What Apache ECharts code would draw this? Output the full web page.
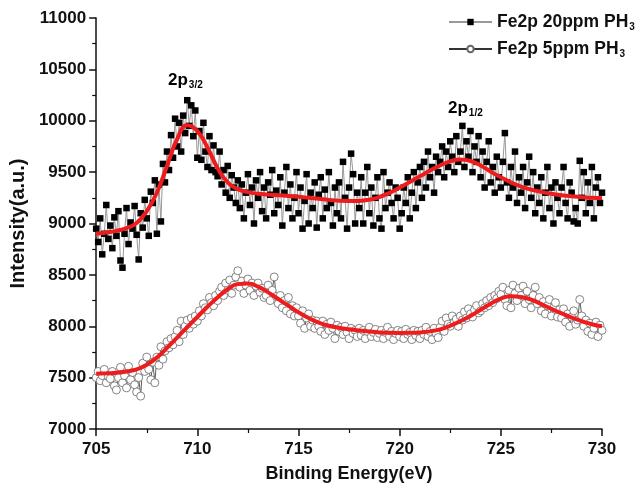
<!DOCTYPE html>
<html>
<head>
<meta charset="utf-8">
<script src="https://cdn.jsdelivr.net/npm/echarts@6/dist/echarts.min.js"></script>
<style>
  html, body { margin: 0; padding: 0; background: #fff; }
  #chart { width: 635px; height: 488px; }
</style>
</head>
<body>
<div id="chart"></div>
<script>
// raw spectra, one point every 0.1 eV from 705 to 730
const startEnergy = 705
const stepEnergy = 0.1

const fe20ppm = [
  8950, 8820, 9050, 8700, 8900, 9180, 8850, 8980, 8760, 9060,
  8880, 9120, 8640, 8570, 8900, 9150, 8800, 9010, 8950, 9170,
  8890, 8650, 9100, 8960, 9230, 9050, 8880, 9310, 9200, 9420,
  8900, 9380, 9020, 9580, 9400, 9700, 9520, 9860, 9640, 10020,
  9750, 9980, 9700, 10050, 9880, 10200, 9950, 10150, 9850, 10100,
  9640, 9900, 9620, 9980, 9700, 9550, 9850, 9520, 9760, 9500,
  9460, 9700, 9380, 9520, 9300, 9560, 9250, 9470, 9350, 9200,
  9420, 9150, 9380, 9050, 9300, 9480, 9180, 9350, 9000, 9420,
  9250, 9500, 9120, 9350, 9050, 9400, 9280, 9520, 9100, 9320,
  9180, 9450, 8980, 9300, 9550, 9150, 9380, 9050, 9250, 9500,
  9100, 9350, 8950, 9220, 9480, 9000, 9300, 9150, 9400, 8960,
  9280, 9450, 9050, 9330, 9150, 9500, 9200, 8980, 9350, 9100,
  9400, 9050, 9600, 9250, 8950, 9350, 9680, 9480, 9000, 9300,
  9150, 9450, 9000, 9300, 9550, 9100, 9350, 8980, 9250, 9450,
  9050, 8950, 9500, 9150, 9300, 9400, 9200, 9050, 9350, 9250,
  8950, 9100, 9350, 9200, 9450, 9050, 9300, 9500, 9150, 9400,
  9550, 9250, 9600, 9350, 9700, 9450, 9550, 9300, 9650, 9500,
  9600, 9750, 9450, 9700, 9550, 9800, 9650, 9500, 9850, 9600,
  9700, 9950, 9550, 9800, 9650, 9900, 9500, 9750, 9600, 9850,
  9450, 9700, 9350, 9600, 9800, 9400, 9550, 9300, 9650, 9450,
  9350, 9600, 9880, 9400, 9250, 9550, 9350, 9700, 9200, 9450,
  9300, 9550, 9150, 9400, 9650, 9250, 9500, 9100, 9350, 9200,
  9450, 9050, 9300, 9550, 9150, 9350, 9000, 9400, 9250, 9100,
  9350, 9550, 9200, 9050, 9400, 9300, 9020, 9150, 9000, 9610,
  9250, 9500, 9100, 9400, 9200, 9550, 9050, 9350, 9450, 9200,
  9300
]

const fe5ppm = [
  7500, 7560, 7470, 7520, 7580, 7450, 7510, 7490, 7560, 7420,
  7380, 7500, 7600, 7450, 7520, 7400, 7610, 7480, 7550, 7430,
  7360, 7500, 7320, 7640, 7560, 7700, 7580, 7480, 7650, 7450,
  7700, 7620, 7800, 7680, 7760, 7850, 7790, 7880, 7820, 7900,
  7960, 7850, 8050, 7920, 8000, 8060, 7980, 8080, 8020, 8100,
  8050, 8150, 8100, 8220, 8180, 8160, 8280, 8230, 8200, 8300,
  8250, 8340, 8380, 8300, 8420, 8350, 8450, 8320, 8400, 8480,
  8540, 8380, 8440, 8320, 8400, 8460, 8350, 8420, 8300, 8390,
  8420, 8330, 8370, 8280, 8300, 8400, 8250, 8350, 8480, 8290,
  8220, 8300, 8180, 8250, 8150, 8280, 8120, 8200, 8100, 8180,
  8100, 8030, 8150, 7980, 8080, 8120, 8000, 8060, 7980, 8050,
  8000, 7950, 8050, 7920, 8020, 7960, 8040, 7980, 7880, 8010,
  7950, 7990, 7920, 8000, 7940, 7880, 7980, 7930, 7960, 7900,
  7980, 7910, 7960, 7880, 7950, 7990, 7900, 7940, 7970, 7890,
  7930, 7960, 7880, 7940, 7990, 7900, 7950, 7870, 7930, 7960,
  7900, 7950, 7880, 7970, 7920, 7940, 7870, 7960, 7910, 7950,
  7880, 7960, 7920, 7990, 7900, 7950, 7870, 7980, 7930, 7890,
  7990, 8050, 7950, 8080, 8020, 8000, 8100, 8040, 8070, 8000,
  8100, 8060, 8140, 8080, 8170, 8120, 8090, 8160, 8200, 8130,
  8150, 8220, 8180, 8250, 8200, 8280, 8230, 8300, 8270, 8340,
  8310, 8380, 8260, 8200, 8350, 8180, 8400, 8320, 8250, 8370,
  8300, 8390, 8220, 8340, 8260, 8180, 8300, 8380, 8220, 8280,
  8150, 8240, 8120, 8200, 8260, 8100, 8180, 8230, 8090, 8160,
  8080, 8170, 8040, 8120, 8000, 8090, 8150, 8020, 8060, 8260,
  8100, 8000, 8060, 7950, 8030, 7920, 7980, 8040, 7900, 8010,
  7960
]

// fitted envelopes, one point every 0.5 eV from 705 to 730
const fitStep = 0.5
const fit20ppm = [
  8900, 8912, 8928, 8955, 9005, 9120, 9300, 9560, 9820, 9955,
  9900, 9740, 9540, 9400, 9335, 9305, 9290, 9282, 9275, 9268,
  9260, 9250, 9240, 9230, 9222, 9218, 9220, 9232, 9258, 9298,
  9350, 9405, 9460, 9515, 9565, 9605, 9622, 9608, 9565, 9505,
  9450, 9400, 9360, 9330, 9308, 9290, 9276, 9265, 9256, 9250,
  9246
]
const fit5ppm = [
  7537, 7542, 7548, 7560, 7580, 7625, 7695, 7790, 7890, 7990,
  8090, 8190, 8280, 8360, 8410, 8415, 8385, 8330, 8265, 8200,
  8135, 8080, 8035, 8005, 7985, 7970, 7958, 7948, 7940, 7936,
  7935, 7936, 7940, 7950, 7970, 8005, 8050, 8100, 8160, 8220,
  8270, 8292, 8285, 8260, 8215, 8170, 8125, 8085, 8050, 8020,
  8000
]

const xTicks = { min: 705, max: 730, interval: 5 }
const yTicks = { min: 7000, max: 11000, interval: 500 }

function pairs(values, step) {
  return values.map((v, i) => [+(startEnergy + i * step).toFixed(2), v])
}

const font = 'Liberation Sans, Arial, sans-serif'
const ink = '#111'

const chart = echarts.init(document.getElementById('chart'))

const axisCommon = {
  axisLine: { lineStyle: { color: ink, width: 1.5 } },
  axisTick: { inside: false, length: 7, lineStyle: { color: ink, width: 1.5 } },
  minorTick: { show: true, splitNumber: 2, length: 4, lineStyle: { color: ink, width: 1.2 } },
  splitLine: { show: false },
  axisLabel: { color: ink, fontFamily: font, fontWeight: 'bold', fontSize: 17, formatter: v => String(v) },
  nameTextStyle: { color: ink, fontFamily: font, fontWeight: 'bold', fontSize: 18 }
}

const subRich = {
  b: { fontFamily: font, fontWeight: 'bold', fontSize: 17, color: ink },
  s: { fontFamily: font, fontWeight: 'bold', fontSize: 10, color: ink, padding: [10, 0, 0, 1] }
}

const legendRich = {
  b: { fontFamily: font, fontWeight: 'bold', fontSize: 17.5, color: ink },
  s: { fontFamily: font, fontWeight: 'bold', fontSize: 10, color: ink, padding: [10, 0, 0, 1] }
}

chart.setOption({
  animation: false,
  backgroundColor: '#fff',
  grid: { left: 93, right: 33, top: 18, bottom: 56 },
  legend: {
    data: ['fe20', 'fe5'],
    orient: 'vertical',
    left: 443,
    top: 8,
    itemWidth: 43,
    itemHeight: 8,
    itemGap: 8,
    formatter: name => name === 'fe20'
      ? '{b|Fe2p 20ppm PH}{s|3}'
      : '{b|Fe2p 5ppm PH}{s|3}',
    textStyle: { rich: legendRich }
  },
  xAxis: Object.assign({
    type: 'value',
    min: xTicks.min,
    max: xTicks.max,
    interval: xTicks.interval,
    name: 'Binding Energy(eV)',
    nameLocation: 'middle',
    nameGap: 36
  }, axisCommon, {
    axisLabel: Object.assign({}, axisCommon.axisLabel, { margin: 12 })
  }),
  yAxis: Object.assign({
    type: 'value',
    min: yTicks.min,
    max: yTicks.max,
    interval: yTicks.interval,
    name: 'Intensity(a.u.)',
    nameLocation: 'middle',
    nameGap: 62
  }, axisCommon, {
    axisLabel: Object.assign({}, axisCommon.axisLabel, { margin: 10 }),
    nameTextStyle: Object.assign({}, axisCommon.nameTextStyle, { fontSize: 20 })
  }),
  graphic: [
    {
      type: 'text', left: 168, top: 72,
      style: { text: '{b|2p}{s|3/2}', rich: subRich }
    },
    {
      type: 'text', left: 448, top: 100,
      style: { text: '{b|2p}{s|1/2}', rich: subRich }
    }
  ],
  series: [
    {
      name: 'fe20',
      type: 'line',
      data: pairs(fe20ppm, stepEnergy),
      symbol: 'rect',
      symbolSize: 6.5,
      showAllSymbol: true,
      itemStyle: { color: '#000' },
      lineStyle: { color: '#999', width: 1 },
      z: 2
    },
    {
      name: 'fe5',
      type: 'line',
      data: pairs(fe5ppm, stepEnergy),
      symbol: 'circle',
      symbolSize: 8,
      showAllSymbol: true,
      itemStyle: { color: '#fff', borderColor: '#666', borderWidth: 0.8 },
      lineStyle: { color: '#333', width: 0.8 },
      z: 2
    },
    {
      name: 'fit20',
      type: 'line',
      data: pairs(fit20ppm, fitStep),
      smooth: true,
      symbol: 'none',
      lineStyle: { color: '#ee1c1c', width: 4 },
      z: 3
    },
    {
      name: 'fit5',
      type: 'line',
      data: pairs(fit5ppm, fitStep),
      smooth: true,
      symbol: 'none',
      lineStyle: { color: '#ee1c1c', width: 4 },
      z: 3
    }
  ]
})
</script>
</body>
</html>
